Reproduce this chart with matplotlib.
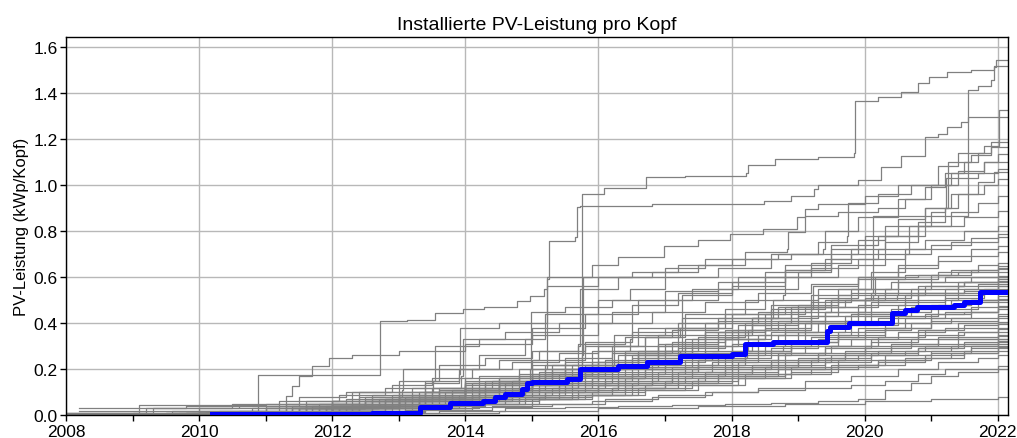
import matplotlib
matplotlib.use("Agg")
import matplotlib.pyplot as plt
from matplotlib.ticker import MultipleLocator

plt.rcParams['font.family'] = ['Liberation Sans', 'DejaVu Sans']

TITLE = "Installierte PV-Leistung pro Kopf"
YLABEL = "PV-Leistung (kWp/Kopf)"
X_TICKS = [2008, 2010, 2012, 2014, 2016, 2018, 2020, 2022]
Y_TICKS = [0.0, 0.2, 0.4, 0.6, 0.8, 1.0, 1.2, 1.4, 1.6]

# highlighted series (blue)
blue_x = [2010.2, 2012.6, 2013.32, 2013.77, 2014.27, 2014.45, 2014.6, 2014.85, 2014.92, 2015.0,
          2015.53, 2015.73, 2016.3, 2016.73, 2017.23, 2018.0, 2018.2, 2018.63, 2019.43, 2019.48,
          2019.76, 2020.41, 2020.61, 2020.79, 2021.34, 2021.49, 2021.74]
blue_y = [0.006, 0.012, 0.035, 0.052, 0.063, 0.078, 0.092, 0.114, 0.14, 0.146,
          0.158, 0.201, 0.213, 0.23, 0.259, 0.268, 0.309, 0.317, 0.367, 0.385,
          0.40, 0.443, 0.457, 0.469, 0.479, 0.49, 0.534]

# other series (grey): (year, value) breakpoints
gray_lines = [
    [(2008,0.005),(2009.5,0.008),(2010.6,0.02),(2011.4,0.04),(2012.0,0.06),(2012.5,0.08),(2013.0,0.1),(2013.5,0.12),(2014.0,0.14),(2014.5,0.16),(2015.0,0.18),(2015.3,0.2),(2015.75,0.96),(2016.08,0.985),(2016.71,1.033),(2017.3,1.04),(2018.21,1.052),(2018.24,1.085),(2018.66,1.112),(2019.3,1.12),(2019.84,1.138),(2019.86,1.365),(2020.2,1.38),(2020.54,1.402),(2020.8,1.44),(2020.97,1.467),(2021.24,1.49),(2021.6,1.5),(2021.94,1.51),(2021.97,1.54)],
    [(2008,0.005),(2010.2,0.01),(2011.5,0.03),(2012.5,0.06),(2013.3,0.1),(2014.0,0.15),(2014.8,0.2),(2015.5,0.25),(2016.2,0.3),(2016.9,0.35),(2017.6,0.4),(2018.4,0.45),(2019.2,0.49),(2019.8,0.53),(2020.13,0.866),(2021.56,1.41),(2021.7,1.43),(2021.9,1.453),(2021.95,1.517)],
    [(2008,0.005),(2009.6,0.01),(2010.8,0.03),(2011.6,0.06),(2012.3,0.1),(2013.0,0.15),(2013.6,0.2),(2014.2,0.26),(2014.9,0.33),(2015.2,0.4),(2015.22,0.6),(2015.9,0.65),(2016.3,0.686),(2016.98,0.736),(2017.5,0.76),(2017.98,0.787),(2018.48,0.809),(2018.98,0.859),(2019.1,0.895),(2019.3,0.917),(2020.0,0.95),(2020.5,1.0),(2021.1,1.08),(2021.4,1.14),(2021.8,1.17),(2022.02,1.325)],
    [(2008,0.005),(2009.0,0.008),(2010.0,0.012),(2010.89,0.176),(2012.72,0.408),(2013.12,0.415),(2013.55,0.444),(2013.97,0.461),(2014.28,0.469),(2014.78,0.497),(2014.97,0.519),(2015.18,0.548),(2015.23,0.592),(2015.25,0.758),(2015.65,0.772),(2015.68,0.903),(2015.73,0.91),(2016.8,0.917),(2018.49,0.929),(2018.9,0.953),(2019.24,0.982),(2019.3,1.0),(2019.9,1.02),(2020.24,1.076),(2020.54,1.127),(2020.9,1.207),(2021.1,1.221),(2021.24,1.25),(2021.45,1.272),(2021.55,1.293)],
    [(2008.3,0.005),(2010.5,0.01),(2012,0.04),(2013,0.08),(2014,0.13),(2015,0.2),(2015.7,0.3),(2015.72,0.55),(2016.3,0.6),(2017.0,0.64),(2017.6,0.68),(2018.2,0.707),(2018.83,0.72),(2018.85,0.794),(2019.1,0.866),(2019.6,0.88),(2020.2,0.9),(2020.6,0.94),(2020.9,0.99),(2021.2,1.05),(2021.5,1.1),(2021.7,1.14),(2021.9,1.185)],
    [(2008,0.005),(2009.5,0.01),(2011,0.03),(2012,0.06),(2013,0.1),(2014,0.16),(2015,0.24),(2015.8,0.3),(2016.6,0.38),(2017.3,0.44),(2018.2,0.5),(2018.78,0.52),(2018.8,0.63),(2019.4,0.68),(2019.8,0.72),(2020.3,0.78),(2020.8,0.84),(2021.2,0.9),(2021.25,1.1),(2021.6,1.13),(2021.9,1.163)],
    [(2008.5,0.005),(2010,0.01),(2011.5,0.03),(2012.5,0.06),(2013.5,0.1),(2014.5,0.15),(2015.2,0.2),(2015.22,0.56),(2016,0.6),(2016.8,0.62),(2017.5,0.65),(2018.2,0.68),(2018.9,0.7),(2019.38,0.72),(2019.4,0.8),(2019.9,0.86),(2020.5,0.94),(2021,1.0),(2021.4,1.06),(2021.8,1.1),(2022,1.134)],
    [(2008.2,0.03),(2009.8,0.04),(2011.5,0.05),(2012.6,0.09),(2013.4,0.14),(2013.9,0.18),(2013.92,0.38),(2014.5,0.4),(2015.2,0.44),(2016,0.5),(2016.48,0.55),(2017,0.6),(2017.8,0.64),(2018.6,0.7),(2019.3,0.75),(2019.73,0.78),(2019.75,0.92),(2020.2,0.96),(2020.7,1.0),(2021.3,1.05),(2021.8,1.098)],
    [(2008,0.005),(2009.8,0.01),(2011,0.03),(2012,0.05),(2013,0.08),(2014,0.12),(2015,0.17),(2016,0.23),(2016.9,0.3),(2017.6,0.36),(2018.3,0.42),(2019,0.48),(2019.6,0.55),(2020.1,0.62),(2020.6,0.7),(2020.67,0.82),(2021.0,0.88),(2021.2,0.9),(2021.22,1.03),(2021.7,1.05),(2022,1.069)],
    [(2008.6,0.005),(2010.5,0.01),(2012,0.04),(2013.3,0.08),(2014.5,0.13),(2015.5,0.2),(2016.4,0.28),(2017.2,0.38),(2017.9,0.46),(2018.5,0.55),(2019.0,0.62),(2019.5,0.7),(2019.9,0.76),(2020.3,0.82),(2020.9,0.9),(2021.3,0.96),(2021.7,1.01),(2021.95,1.055)],
    [(2008,0.01),(2010,0.02),(2011.3,0.05),(2012.4,0.1),(2013.52,0.15),(2013.55,0.3),(2014.2,0.33),(2015,0.38),(2015.8,0.44),(2016.6,0.5),(2017.4,0.55),(2018.1,0.6),(2018.8,0.65),(2019.5,0.72),(2020,0.78),(2020.5,0.85),(2020.9,0.9),(2021.4,0.96),(2021.8,1.0),(2022,1.026)],
    [(2008,0.005),(2010.5,0.01),(2012,0.05),(2013,0.09),(2014,0.14),(2014.97,0.2),(2014.99,0.45),(2015.5,0.47),(2016.2,0.5),(2017,0.54),(2017.8,0.58),(2018.5,0.62),(2019.2,0.66),(2019.8,0.7),(2020.3,0.75),(2020.8,0.82),(2021.3,0.88),(2021.7,0.92),(2022,0.953)],
    [(2008,0.005),(2010,0.01),(2011.5,0.03),(2012.5,0.06),(2013.5,0.1),(2014.3,0.15),(2015.2,0.22),(2015.75,0.26),(2015.77,0.6),(2016.5,0.62),(2017.2,0.65),(2018,0.68),(2018.7,0.7),(2019.5,0.74),(2020.2,0.78),(2020.9,0.82),(2021.5,0.86),(2022,0.888)],
    [(2008,0.005),(2010.3,0.01),(2011.8,0.04),(2012.8,0.07),(2013.6,0.11),(2014.5,0.16),(2015.3,0.22),(2016.0,0.28),(2016.48,0.33),(2016.5,0.48),(2017.2,0.53),(2018,0.58),(2018.8,0.63),(2019.5,0.68),(2020.2,0.72),(2020.9,0.76),(2021.5,0.8),(2022,0.823)],
    [(2008.2,0.005),(2010,0.01),(2011.6,0.04),(2012.6,0.08),(2013.4,0.12),(2014.2,0.17),(2015.0,0.22),(2015.9,0.28),(2016.7,0.34),(2017.23,0.38),(2017.25,0.52),(2018,0.56),(2018.8,0.6),(2019.6,0.65),(2020.3,0.7),(2021.0,0.74),(2021.6,0.77),(2022,0.787)],
    [(2008,0.005),(2009.1,0.045),(2011,0.05),(2012.2,0.07),(2013.2,0.12),(2013.94,0.17),(2013.96,0.33),(2014.6,0.36),(2015.4,0.4),(2016.2,0.45),(2017,0.5),(2017.8,0.55),(2018.5,0.6),(2019.2,0.64),(2019.9,0.68),(2020.6,0.72),(2021.3,0.75),(2022,0.773)],
    [(2008,0.005),(2010.5,0.01),(2012,0.04),(2013,0.07),(2014,0.11),(2015,0.16),(2015.8,0.21),(2016.6,0.27),(2017.4,0.33),(2018.1,0.39),(2018.6,0.42),(2018.62,0.5),(2019.3,0.55),(2019.9,0.6),(2020.5,0.65),(2021.1,0.69),(2021.6,0.72),(2022,0.736)],
    [(2008.5,0.005),(2010.2,0.01),(2011.7,0.03),(2012.9,0.06),(2013.8,0.1),(2014.7,0.15),(2015.5,0.2),(2016.3,0.26),(2017,0.31),(2017.8,0.36),(2018.5,0.41),(2019.2,0.46),(2019.23,0.56),(2019.9,0.6),(2020.5,0.64),(2021.1,0.67),(2021.6,0.69),(2022,0.707)],
    [(2008,0.005),(2010,0.02),(2011.3,0.085),(2011.4,0.128),(2011.5,0.172),(2011.7,0.216),(2011.95,0.25),(2012.3,0.26),(2013,0.28),(2014,0.31),(2015,0.35),(2016,0.4),(2016.8,0.45),(2017.6,0.49),(2018.4,0.53),(2019.2,0.57),(2019.9,0.59),(2020.6,0.61),(2021.3,0.63),(2022,0.649)],
    [(2008,0.005),(2010.4,0.01),(2012,0.04),(2013,0.08),(2014,0.12),(2015,0.17),(2015.9,0.22),(2016.7,0.28),(2017.5,0.34),(2018.2,0.4),(2018.9,0.45),(2019.5,0.5),(2020.13,0.52),(2020.15,0.6),(2020.8,0.61),(2021.4,0.62),(2022,0.635)],
    [(2008.3,0.005),(2010.6,0.01),(2012.2,0.04),(2013.3,0.08),(2014.2,0.12),(2015,0.16),(2015.8,0.2),(2016.6,0.25),(2017.4,0.3),(2018.1,0.35),(2018.8,0.4),(2019.4,0.45),(2020,0.5),(2020.49,0.52),(2020.5,0.58),(2021.2,0.6),(2022,0.62)],
    [(2008,0.005),(2010,0.01),(2011.5,0.03),(2012.6,0.06),(2013.6,0.1),(2014.5,0.14),(2015.3,0.19),(2016.1,0.24),(2016.9,0.3),(2017.6,0.36),(2018.3,0.42),(2018.9,0.47),(2019.6,0.52),(2020.3,0.55),(2021,0.58),(2021.6,0.6),(2022,0.606)],
    [(2008,0.005),(2009.8,0.01),(2011.2,0.03),(2012.3,0.06),(2013.2,0.09),(2014,0.13),(2014.8,0.17),(2015.6,0.22),(2016.4,0.27),(2017.1,0.32),(2017.9,0.37),(2018.6,0.42),(2019.3,0.47),(2020,0.51),(2020.7,0.55),(2021.4,0.58),(2022,0.6)],
    [(2008.7,0.005),(2010.8,0.01),(2012.3,0.04),(2013.3,0.07),(2014.2,0.11),(2015,0.15),(2015.7,0.19),(2016.22,0.22),(2016.24,0.35),(2017,0.38),(2017.8,0.42),(2018.6,0.46),(2019.4,0.5),(2020.1,0.53),(2020.8,0.56),(2021.5,0.58),(2022,0.59)],
    [(2008,0.005),(2010.1,0.015),(2011.7,0.04),(2012.8,0.07),(2013.7,0.1),(2014.6,0.14),(2015.4,0.18),(2016.2,0.23),(2017,0.28),(2017.8,0.33),(2018.5,0.38),(2019.2,0.43),(2019.9,0.48),(2020.6,0.52),(2021.2,0.55),(2021.7,0.57),(2022,0.584)],
    [(2008,0.005),(2010,0.01),(2011.4,0.03),(2012.5,0.06),(2013.4,0.1),(2014.3,0.14),(2015.1,0.18),(2015.9,0.23),(2016.6,0.28),(2017.3,0.33),(2018.0,0.37),(2018.7,0.41),(2019.4,0.45),(2020.1,0.49),(2020.8,0.53),(2021.5,0.55),(2022,0.57)],
    [(2008.2,0.005),(2010.3,0.01),(2011.9,0.03),(2013,0.06),(2013.9,0.09),(2014.8,0.13),(2015.6,0.17),(2016.4,0.22),(2017.2,0.27),(2018,0.31),(2018.7,0.35),(2019.4,0.4),(2020.1,0.45),(2020.8,0.5),(2021.4,0.53),(2022,0.562)],
    [(2008,0.005),(2010.6,0.01),(2012.1,0.04),(2013.1,0.07),(2014,0.11),(2014.9,0.15),(2015.7,0.2),(2016.5,0.25),(2017.23,0.28),(2017.25,0.42),(2018,0.44),(2018.8,0.47),(2019.5,0.5),(2020.2,0.52),(2020.9,0.53),(2021.5,0.54),(2022,0.55)],
    [(2008.4,0.005),(2010.2,0.01),(2011.6,0.03),(2012.7,0.06),(2013.6,0.09),(2014.5,0.13),(2015.3,0.17),(2016.1,0.21),(2016.9,0.26),(2017.6,0.3),(2018.4,0.35),(2019.1,0.4),(2019.8,0.44),(2020.5,0.48),(2021.2,0.51),(2021.8,0.53),(2022,0.54)],
    [(2008,0.005),(2009.9,0.01),(2011.3,0.03),(2012.4,0.05),(2013.4,0.08),(2014.3,0.11),(2015.2,0.15),(2016,0.19),(2016.8,0.23),(2017.6,0.28),(2018.3,0.32),(2019,0.36),(2019.7,0.41),(2020.4,0.45),(2021,0.48),(2021.6,0.5),(2022,0.519)],
    [(2008,0.005),(2010.4,0.01),(2012,0.04),(2013.2,0.07),(2014.1,0.1),(2015,0.13),(2015.8,0.17),(2016.6,0.21),(2017.4,0.25),(2018.23,0.28),(2018.25,0.37),(2019,0.4),(2019.7,0.43),(2020.4,0.46),(2021.1,0.48),(2021.6,0.5),(2022,0.505)],
    [(2008.6,0.005),(2010.7,0.01),(2012.3,0.03),(2013.4,0.06),(2014.3,0.09),(2015.1,0.12),(2015.9,0.16),(2016.7,0.2),(2017.5,0.24),(2018.2,0.28),(2018.9,0.32),(2019.6,0.36),(2020.3,0.4),(2021,0.44),(2021.6,0.47),(2022,0.49)],
    [(2008,0.005),(2010,0.01),(2011.6,0.03),(2012.7,0.05),(2013.7,0.08),(2014.6,0.11),(2015.4,0.14),(2016.2,0.18),(2017,0.22),(2017.8,0.26),(2018.5,0.3),(2019.2,0.34),(2019.9,0.38),(2020.6,0.42),(2021.2,0.45),(2022,0.476)],
    [(2008.3,0.005),(2010.5,0.01),(2012.1,0.03),(2013.2,0.06),(2014.1,0.09),(2014.9,0.12),(2015.7,0.16),(2016.5,0.2),(2017.3,0.24),(2018,0.28),(2018.78,0.3),(2018.8,0.36),(2019.5,0.39),(2020.2,0.42),(2020.9,0.44),(2021.5,0.45),(2022,0.461)],
    [(2008,0.005),(2010.2,0.01),(2011.8,0.03),(2012.9,0.05),(2013.8,0.08),(2014.7,0.11),(2015.5,0.14),(2016.3,0.17),(2017.1,0.21),(2017.9,0.25),(2018.6,0.29),(2019.3,0.33),(2020,0.37),(2020.7,0.4),(2021.3,0.42),(2022,0.44)],
    [(2008,0.005),(2009.7,0.01),(2011.2,0.02),(2012.4,0.04),(2013.4,0.07),(2014.3,0.1),(2015.1,0.13),(2015.9,0.16),(2016.7,0.2),(2017.5,0.24),(2018.2,0.28),(2018.9,0.32),(2019.6,0.35),(2020.3,0.38),(2021,0.41),(2022,0.432)],
    [(2008.5,0.005),(2010.6,0.01),(2012.2,0.03),(2013.3,0.05),(2014.2,0.08),(2015,0.1),(2015.8,0.13),(2016.6,0.16),(2017.4,0.2),(2018.1,0.23),(2018.8,0.27),(2019.5,0.3),(2020.2,0.34),(2020.9,0.37),(2021.5,0.39),(2022,0.405)],
    [(2008,0.005),(2010,0.01),(2011.5,0.02),(2012.6,0.04),(2013.6,0.06),(2014.5,0.09),(2015.3,0.12),(2016.1,0.15),(2016.9,0.19),(2017.7,0.23),(2018.4,0.27),(2019.1,0.3),(2019.8,0.33),(2020.5,0.36),(2021.2,0.38),(2022,0.396)],
    [(2008,0.005),(2010.3,0.01),(2011.9,0.03),(2013,0.05),(2013.9,0.07),(2014.8,0.1),(2015.6,0.13),(2016.4,0.16),(2017.2,0.19),(2018,0.22),(2018.7,0.26),(2019.4,0.29),(2020.1,0.32),(2020.8,0.35),(2021.5,0.36),(2022,0.375)],
    [(2008.2,0.005),(2010.8,0.01),(2012.4,0.03),(2013.5,0.05),(2014.4,0.07),(2015.2,0.1),(2016,0.13),(2016.8,0.16),(2017.6,0.19),(2018.3,0.22),(2019,0.25),(2019.7,0.28),(2020.4,0.31),(2021.1,0.34),(2022,0.362)],
    [(2008,0.005),(2010.1,0.01),(2011.7,0.02),(2012.8,0.04),(2013.8,0.06),(2014.7,0.09),(2015.5,0.11),(2016.3,0.14),(2017.1,0.17),(2017.9,0.2),(2018.6,0.23),(2019.3,0.26),(2020,0.29),(2020.7,0.31),(2021.4,0.33),(2022,0.345)],
    [(2008,0.005),(2010.5,0.01),(2012,0.02),(2013.1,0.04),(2014,0.06),(2014.9,0.08),(2015.7,0.11),(2016.5,0.14),(2017.3,0.17),(2018.1,0.2),(2018.8,0.23),(2019.5,0.26),(2020.2,0.28),(2020.9,0.3),(2021.5,0.32),(2022,0.331)],
    [(2008.4,0.005),(2010.3,0.01),(2011.9,0.02),(2013,0.04),(2013.9,0.06),(2014.8,0.08),(2015.6,0.1),(2016.4,0.13),(2017.2,0.16),(2018,0.19),(2018.7,0.22),(2019.4,0.25),(2020.1,0.27),(2020.8,0.29),(2021.4,0.31),(2022,0.324)],
    [(2008,0.005),(2010,0.008),(2011.6,0.02),(2012.8,0.03),(2013.7,0.05),(2014.6,0.07),(2015.4,0.09),(2016.2,0.12),(2017,0.15),(2017.8,0.18),(2018.5,0.21),(2019.2,0.24),(2019.9,0.26),(2020.6,0.28),(2021.3,0.3),(2022,0.318)],
    [(2008,0.005),(2010.7,0.01),(2012.3,0.02),(2013.4,0.04),(2014.3,0.06),(2015.1,0.08),(2015.9,0.1),(2016.7,0.13),(2017.5,0.16),(2018.2,0.18),(2018.9,0.21),(2019.6,0.24),(2020.3,0.26),(2021,0.28),(2021.6,0.3),(2022,0.309)],
    [(2008.6,0.005),(2010.4,0.01),(2012,0.02),(2013.2,0.03),(2014.1,0.05),(2015,0.07),(2015.8,0.09),(2016.6,0.12),(2017.4,0.15),(2018.1,0.17),(2018.8,0.2),(2019.5,0.22),(2020.2,0.24),(2020.9,0.26),(2021.5,0.28),(2022,0.296)],
    [(2008,0.005),(2010.2,0.007),(2011.8,0.015),(2013,0.03),(2014,0.05),(2014.9,0.07),(2015.7,0.09),(2016.5,0.11),(2017.3,0.13),(2018.1,0.16),(2018.8,0.18),(2019.5,0.21),(2020.2,0.23),(2020.9,0.25),(2021.5,0.27),(2022,0.28)],
    [(2008,0.005),(2010.6,0.007),(2012.2,0.015),(2013.4,0.025),(2014.4,0.04),(2015.3,0.05),(2016.1,0.07),(2016.9,0.09),(2017.7,0.1),(2018.4,0.11),(2019.1,0.12),(2019.8,0.13),(2020.3,0.15),(2020.8,0.18),(2021.2,0.2),(2022,0.215)],
    [(2008.3,0.005),(2010.9,0.007),(2012.5,0.01),(2013.6,0.02),(2014.6,0.03),(2015.5,0.035),(2016.3,0.04),(2017.1,0.045),(2017.9,0.05),(2018.6,0.055),(2019.3,0.06),(2019.9,0.07),(2020.3,0.11),(2020.7,0.14),(2021,0.17),(2021.4,0.19),(2022,0.2)],
    [(2008,0.005),(2011,0.006),(2013,0.01),(2014.5,0.02),(2016,0.03),(2017.5,0.04),(2018.8,0.05),(2020,0.06),(2021,0.07),(2022,0.079)],
    [(2008,0.01),(2009.3,0.03),(2010.5,0.05),(2011.5,0.08),(2012.2,0.1),(2012.9,0.13),(2013.5,0.16),(2014.1,0.2),(2014.7,0.23),(2015.4,0.27),(2016,0.3),(2016.7,0.34),(2017.3,0.38),(2018,0.42),(2018.7,0.47),(2019.3,0.51),(2019.9,0.55),(2020.5,0.59),(2021.1,0.62),(2021.7,0.65),(2022,0.66)],
    [(2008.2,0.02),(2010,0.03),(2011.2,0.06),(2012.1,0.09),(2012.8,0.12),(2013.4,0.15),(2013.9,0.2),(2014.5,0.24),(2015.1,0.28),(2015.8,0.32),(2016.5,0.36),(2017.2,0.4),(2017.9,0.44),(2018.6,0.48),(2019.2,0.52),(2019.8,0.55),(2020.4,0.58),(2021,0.61),(2021.6,0.63),(2022,0.64)],
    [(2008,0.005),(2010.3,0.02),(2011.6,0.05),(2012.4,0.08),(2013.05,0.11),(2013.07,0.2),(2013.6,0.22),(2014.3,0.25),(2015,0.28),(2015.7,0.31),(2016.4,0.34),(2017.1,0.37),(2017.8,0.41),(2018.5,0.44),(2019.1,0.47),(2019.7,0.5),(2020.3,0.53),(2020.9,0.56),(2021.5,0.58),(2022,0.6)],
    [(2008,0.005),(2010.6,0.015),(2011.9,0.04),(2012.7,0.07),(2013.4,0.1),(2014.1,0.14),(2014.8,0.18),(2015.5,0.23),(2016.2,0.27),(2016.9,0.31),(2017.6,0.35),(2018.3,0.39),(2019,0.43),(2019.6,0.47),(2020.2,0.5),(2020.8,0.53),(2021.4,0.56),(2022,0.58)],
    [(2008.4,0.005),(2010.1,0.01),(2011.4,0.03),(2012.3,0.05),(2013.1,0.08),(2013.8,0.11),(2014.5,0.14),(2015.2,0.18),(2015.9,0.22),(2016.6,0.26),(2017.3,0.3),(2017.9,0.33),(2018.5,0.37),(2019.2,0.41),(2019.9,0.45),(2020.6,0.49),(2021.2,0.52),(2021.8,0.55),(2022,0.56)],
    [(2008,0.005),(2009.6,0.02),(2011,0.04),(2012,0.06),(2012.9,0.09),(2013.6,0.12),(2014.4,0.15),(2015.1,0.19),(2015.8,0.22),(2016.5,0.26),(2017.2,0.29),(2017.9,0.33),(2018.6,0.36),(2019.3,0.4),(2020,0.43),(2020.7,0.47),(2021.3,0.5),(2022,0.53)],
    [(2008.1,0.005),(2010.4,0.015),(2011.8,0.03),(2012.7,0.05),(2013.5,0.08),(2014.2,0.1),(2014.9,0.13),(2015.6,0.17),(2016.3,0.2),(2017,0.24),(2017.7,0.27),(2018.4,0.31),(2019.1,0.35),(2019.8,0.39),(2020.5,0.43),(2021.1,0.46),(2021.7,0.49),(2022,0.5)],
    [(2008,0.005),(2010.8,0.01),(2012.1,0.03),(2013,0.05),(2013.8,0.07),(2014.6,0.1),(2015.4,0.13),(2016.1,0.16),(2016.8,0.19),(2017.5,0.22),(2018.2,0.26),(2018.9,0.3),(2019.6,0.34),(2020.3,0.38),(2021,0.42),(2021.6,0.45),(2022,0.47)],
    [(2008,0.005),(2010,0.01),(2011.3,0.02),(2012.4,0.04),(2013.3,0.06),(2014.1,0.09),(2014.9,0.12),(2015.7,0.15),(2016.5,0.18),(2017.3,0.21),(2018,0.24),(2018.7,0.27),(2019.4,0.3),(2020.1,0.33),(2020.8,0.37),(2021.4,0.4),(2022,0.42)],
    [(2008.3,0.005),(2010.5,0.01),(2012,0.03),(2013,0.05),(2013.9,0.07),(2014.7,0.1),(2015.5,0.12),(2016.3,0.15),(2017.1,0.18),(2017.9,0.21),(2018.6,0.24),(2019.3,0.27),(2020,0.3),(2020.7,0.33),(2021.4,0.36),(2022,0.38)],
    [(2008,0.005),(2009.8,0.01),(2011.4,0.02),(2012.6,0.04),(2013.5,0.06),(2014.4,0.08),(2015.2,0.1),(2016,0.13),(2016.8,0.15),(2017.6,0.18),(2018.3,0.21),(2019,0.24),(2019.7,0.27),(2020.4,0.3),(2021.1,0.33),(2022,0.35)],
    [(2008,0.005),(2010.2,0.01),(2011.8,0.02),(2012.9,0.03),(2013.9,0.05),(2014.8,0.07),(2015.6,0.09),(2016.4,0.12),(2017.2,0.14),(2018,0.17),(2018.7,0.2),(2019.4,0.23),(2020.1,0.26),(2020.8,0.29),(2021.5,0.31),(2022,0.33)],
    [(2008.5,0.005),(2010.7,0.01),(2012.2,0.02),(2013.3,0.03),(2014.2,0.05),(2015.1,0.07),(2015.9,0.09),(2016.7,0.11),(2017.5,0.13),(2018.2,0.16),(2018.9,0.19),(2019.6,0.22),(2020.3,0.24),(2021,0.27),(2021.6,0.29),(2022,0.3)],
    [(2008,0.01),(2009.2,0.03),(2010.6,0.04),(2011.8,0.05),(2012.8,0.06),(2013.7,0.07),(2014.6,0.09),(2015.4,0.1),(2016.2,0.12),(2017,0.14),(2017.8,0.16),(2018.5,0.18),(2019.2,0.2),(2019.9,0.22),(2020.6,0.25),(2021.3,0.27),(2022,0.29)],
    [(2008,0.005),(2010.3,0.008),(2011.9,0.015),(2013.1,0.025),(2014.1,0.035),(2015,0.05),(2015.9,0.06),(2016.8,0.08),(2017.6,0.1),(2018.4,0.12),(2019.1,0.15),(2019.8,0.17),(2020.5,0.2),(2021.1,0.23),(2021.7,0.25),(2022,0.26)],
]

X_MIN, X_MAX = 2008.0, 2022.15
Y_MIN, Y_MAX = 0.0, 1.64

fig = plt.figure(figsize=(10.17, 4.39), dpi=100)
ax = fig.add_axes([0.0649, 0.0517, 0.9260, 0.8611])

for line in gray_lines:
    xs = [p[0] for p in line] + [X_MAX]
    ys = [p[1] for p in line] + [line[-1][1]]
    ax.step(xs, ys, where='post', color='#808080', lw=0.9, zorder=2)

ax.step(blue_x + [X_MAX], blue_y + [blue_y[-1]], where='post', color='#0000ff', lw=3.6, zorder=3)

ax.set_xlim(X_MIN, X_MAX)
ax.set_ylim(Y_MIN, Y_MAX)
ax.set_xticks(X_TICKS)
ax.set_xticklabels([str(t) for t in X_TICKS])
ax.xaxis.set_minor_locator(MultipleLocator(1))
ax.set_yticks(Y_TICKS)
ax.set_yticklabels([f"{t:.1f}" for t in Y_TICKS])
ax.tick_params(axis='both', which='both', labelsize=12.5, length=4, width=1, direction='out', pad=2)
ax.grid(True, which='major', color='#b8b8b8', lw=1.0, zorder=1)
ax.set_axisbelow(True)
for s in ax.spines.values():
    s.set_linewidth(1.0)
ax.set_title(TITLE, fontsize=14, pad=6)
ax.set_ylabel(YLABEL, fontsize=12, labelpad=3)

fig.savefig("out.png", dpi=100)
